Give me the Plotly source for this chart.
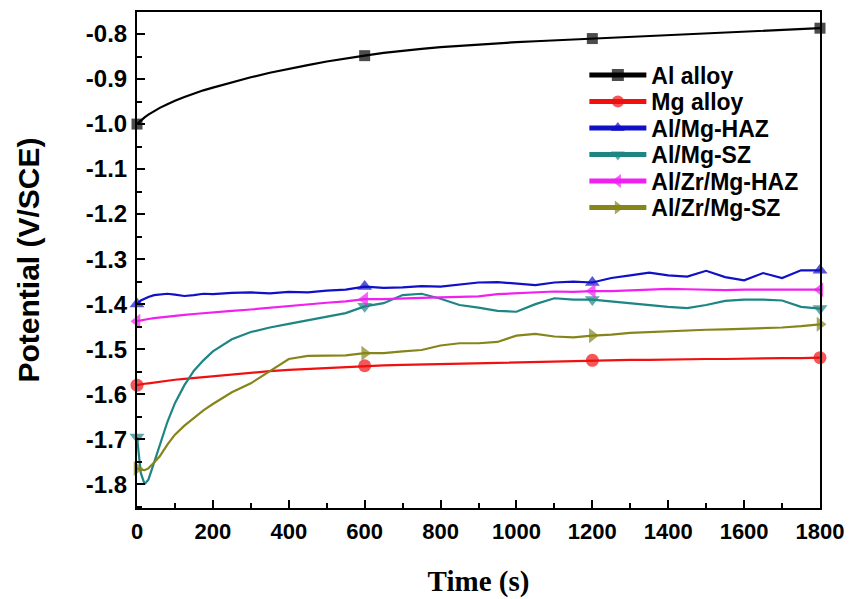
import plotly.graph_objects as go

# ---- data ----
time_s = [0, 10, 20, 30, 45, 60, 80, 100, 125, 150, 175, 200,
          250, 300, 350, 400, 450, 500, 550, 600, 650, 700, 750, 800,
          850, 900, 950, 1000, 1050, 1100, 1150, 1200, 1250, 1300, 1350,
          1400, 1450, 1500, 1550, 1600, 1650, 1700, 1750, 1800]

al_alloy = [-1.000, -0.992, -0.985, -0.979, -0.971, -0.964, -0.956, -0.948, -0.940, -0.932, -0.925, -0.919,
            -0.907, -0.896, -0.886, -0.877, -0.869, -0.861, -0.854, -0.848, -0.842, -0.837, -0.833, -0.829,
            -0.826, -0.823, -0.820, -0.818, -0.816, -0.814, -0.812, -0.810, -0.808, -0.806, -0.805,
            -0.803, -0.801, -0.799, -0.797, -0.795, -0.793, -0.791, -0.789, -0.787]

mg_alloy = [-1.580, -1.578, -1.577, -1.576, -1.574, -1.572, -1.570, -1.568, -1.566, -1.564, -1.562, -1.560,
            -1.556, -1.552, -1.549, -1.546, -1.544, -1.542, -1.540, -1.537, -1.536, -1.535, -1.534, -1.533,
            -1.532, -1.531, -1.530, -1.529, -1.528, -1.527, -1.527, -1.525, -1.525, -1.524, -1.524,
            -1.523, -1.523, -1.522, -1.522, -1.521, -1.521, -1.520, -1.520, -1.519]

almg_haz = [-1.400, -1.392, -1.388, -1.384, -1.380, -1.378, -1.377, -1.379, -1.382, -1.380, -1.377, -1.378,
            -1.375, -1.374, -1.376, -1.373, -1.374, -1.370, -1.368, -1.361, -1.364, -1.363, -1.360, -1.361,
            -1.357, -1.352, -1.351, -1.355, -1.358, -1.352, -1.350, -1.352, -1.342, -1.336, -1.330,
            -1.336, -1.339, -1.326, -1.340, -1.347, -1.331, -1.342, -1.325, -1.325]

almg_sz = [-1.695, -1.775, -1.800, -1.790, -1.752, -1.712, -1.662, -1.620, -1.580, -1.548, -1.525, -1.505,
           -1.478, -1.462, -1.452, -1.444, -1.436, -1.428, -1.420, -1.405, -1.398, -1.380, -1.377, -1.388,
           -1.402, -1.408, -1.415, -1.417, -1.400, -1.387, -1.390, -1.390, -1.394, -1.398, -1.403,
           -1.406, -1.409, -1.402, -1.393, -1.390, -1.390, -1.392, -1.406, -1.410]

alzrmg_haz = [-1.438, -1.436, -1.434, -1.433, -1.431, -1.430, -1.428, -1.426, -1.424, -1.422, -1.420, -1.418,
              -1.415, -1.412, -1.408, -1.404, -1.400, -1.397, -1.394, -1.389, -1.389, -1.387, -1.386, -1.385,
              -1.384, -1.383, -1.378, -1.376, -1.375, -1.372, -1.373, -1.371, -1.371, -1.369, -1.368,
              -1.366, -1.367, -1.368, -1.369, -1.368, -1.368, -1.367, -1.368, -1.368]

alzrmg_sz = [-1.765, -1.768, -1.769, -1.765, -1.752, -1.738, -1.712, -1.690, -1.670, -1.652, -1.636, -1.622,
             -1.596, -1.576, -1.548, -1.522, -1.515, -1.515, -1.514, -1.509, -1.509, -1.505, -1.502, -1.492,
             -1.487, -1.487, -1.484, -1.470, -1.466, -1.472, -1.474, -1.470, -1.468, -1.464, -1.462,
             -1.460, -1.458, -1.457, -1.456, -1.455, -1.453, -1.452, -1.449, -1.445]

series_names = ["Al alloy", "Mg alloy", "Al/Mg-HAZ", "Al/Mg-SZ", "Al/Zr/Mg-HAZ", "Al/Zr/Mg-SZ"]
series_values = [al_alloy, mg_alloy, almg_haz, almg_sz, alzrmg_haz, alzrmg_sz]
series_colors = ["#000000", "#f01010", "#1010c8", "#1e8585", "#f020f0", "#85851a"]
series_symbols = ["square", "circle", "triangle-up", "triangle-down", "triangle-left", "triangle-right"]
series_msize = [11, 13, 13, 13, 13, 13]
marker_times = [0, 600, 1200, 1800]

y_tickvals = [-1.8, -1.7, -1.6, -1.5, -1.4, -1.3, -1.2, -1.1, -1.0, -0.9, -0.8]
y_ticktext = ["-1.8", "-1.7", "-1.6", "-1.5", "-1.4", "-1.3", "-1.2", "-1.1", "-1.0", "-0.9", "-0.8"]
x_tickvals = [0, 200, 400, 600, 800, 1000, 1200, 1400, 1600, 1800]

font_sans = "Liberation Sans, Arial, sans-serif"
legend_ids = ["legend", "legend2", "legend3", "legend4", "legend5", "legend6"]

fig = go.Figure()
legend_layout = {}
for i, (name, vals, col, sym, ms) in enumerate(zip(series_names, series_values, series_colors,
                                                   series_symbols, series_msize)):
    sizes = [ms if t in marker_times else 0 for t in time_s]
    fig.add_trace(go.Scatter(
        x=time_s, y=vals, name=name, mode="lines+markers",
        line=dict(color=col, width=2.2),
        marker=dict(color=col, symbol=sym, size=sizes, line=dict(width=0)),
        cliponaxis=False, legend=legend_ids[i],
    ))
    # one legend box per entry so the row spacing matches the reference
    y_px = 75 + 26.5 * i
    legend_layout[legend_ids[i]] = dict(
        x=0.655, y=(508 - y_px) / 496, xanchor="left", yanchor="middle",
        bgcolor="rgba(0,0,0,0)", borderwidth=0,
        font=dict(family=font_sans, size=23, weight="bold", color="black"),
        itemsizing="constant", itemwidth=57,
    )

fig.update_layout(
    width=850, height=599,
    margin=dict(l=137, r=30, t=12, b=91, autoexpand=False),
    paper_bgcolor="white", plot_bgcolor="white",
    font=dict(family=font_sans, color="black"),
    showlegend=True,
    **legend_layout,
)
fig.update_xaxes(
    range=[0, 1800], tickvals=x_tickvals, automargin=False,
    showline=True, linecolor="black", linewidth=2, mirror=True,
    ticks="inside", ticklen=8, tickwidth=2, tickcolor="black",
    minor=dict(dtick=100, tick0=0, ticks="inside", ticklen=5, tickwidth=2, tickcolor="black", showgrid=False),
    showgrid=False, zeroline=False,
    tickfont=dict(family=font_sans, size=22, weight="bold", color="black"),
    ticklabelstandoff=3,
    title=dict(text="Time (s)", standoff=27,
               font=dict(family="Liberation Serif, Times New Roman, serif", size=29, weight="bold", color="black")),
)
fig.update_yaxes(
    range=[-1.853, -0.751], tickvals=y_tickvals, ticktext=y_ticktext, automargin=False,
    showline=True, linecolor="black", linewidth=2, mirror=True,
    ticks="inside", ticklen=8, tickwidth=2, tickcolor="black",
    minor=dict(dtick=0.05, tick0=-1.8, ticks="inside", ticklen=5, tickwidth=2, tickcolor="black", showgrid=False),
    showgrid=False, zeroline=False,
    tickfont=dict(family=font_sans, size=24, weight="bold", color="black"),
    ticklabelstandoff=3,
    title=dict(text="Potential (V/SCE)", standoff=37,
               font=dict(family=font_sans, size=30, weight="bold", color="black")),
)

fig.write_html("out.html", config={"displayModeBar": False},
               post_script="document.body.style.margin='0px';")
